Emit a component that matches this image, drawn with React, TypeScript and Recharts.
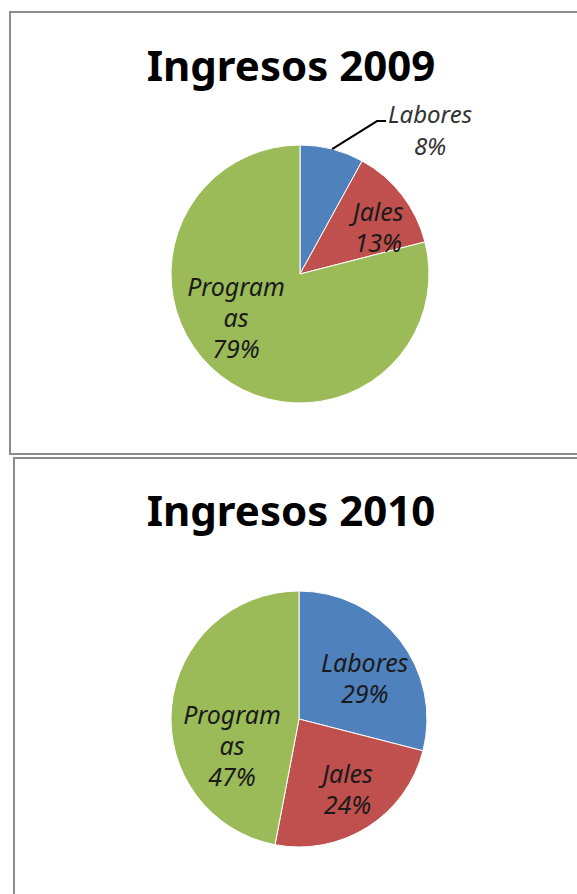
import React from "react";
import { PieChart, Pie, Cell } from "recharts";

const CATEGORIES = ["Labores", "Jales", "Programas"];
const VALUES_2009 = [8, 13, 79];
const VALUES_2010 = [29, 24, 47];
const LABEL_LINES = [["Labores"], ["Jales"], ["Program", "as"]];
const TITLES = ["Ingresos 2009", "Ingresos 2010"];

const COLORS = ["#4F81BD", "#C0504D", "#9BBB59"];
const RAD = Math.PI / 180;
const LINE_H = 31;
const LABEL_SIZE = 25;
const LABEL_FONT = "'Noto Sans', 'DejaVu Sans', sans-serif";

// small per-slice nudges so labels sit where Excel put them
const NUDGE_2009 = [
  [0, 0],
  [15, 2],
  [-15, -20],
];
const NUDGE_2010 = [
  [3, 7],
  [6, 2],
  [12, 33],
];

const data2009 = CATEGORIES.map((name, i) => ({ name, value: VALUES_2009[i] }));
const data2010 = CATEGORIES.map((name, i) => ({ name, value: VALUES_2010[i] }));

function makeLabel(nudge: number[][], outsideIdx: number) {
  return (props: any) => {
    const { cx, cy, midAngle, outerRadius, index, value } = props;
    const lines = [...LABEL_LINES[index], `${value}%`];
    const cos = Math.cos(-midAngle * RAD);
    const sin = Math.sin(-midAngle * RAD);

    if (index === outsideIdx) {
      const ex = cx + outerRadius * cos;
      const ey = cy + outerRadius * sin;
      const mx = ex + 45;
      const my = ey - 28;
      const hx = mx + 9;
      const tx = hx + 44;
      return (
        <g>
          <polyline
            points={`${ex},${ey} ${mx},${my} ${hx},${my}`}
            fill="none"
            stroke="#000"
            strokeWidth={2}
          />
          {lines.map((t, i) => (
            <text
              key={i}
              x={tx}
              y={my - 8 + i * 32}
              textAnchor="middle"
              dominantBaseline="central"
              fontFamily={LABEL_FONT}
              fontStyle="italic"
              fontSize={LABEL_SIZE - 1}
              fill="#333"
            >
              {t}
            </text>
          ))}
        </g>
      );
    }

    const r = outerRadius * 0.62;
    const x = cx + r * cos + nudge[index][0];
    const y = cy + r * sin + nudge[index][1];
    return (
      <g>
        {lines.map((t, i) => (
          <text
            key={i}
            x={x}
            y={y + (i - (lines.length - 1) / 2) * LINE_H}
            textAnchor="middle"
            dominantBaseline="central"
            fontFamily={LABEL_FONT}
            fontStyle="italic"
            fontSize={LABEL_SIZE}
            fill="#1a1a1a"
          >
            {t}
          </text>
        ))}
      </g>
    );
  };
}

const panelStyle: React.CSSProperties = {
  position: "absolute",
  background: "#fff",
  border: "2px solid #8c8c8c",
  boxSizing: "border-box",
};

const titleStyle: React.CSSProperties = {
  position: "absolute",
  left: 0,
  width: 582,
  textAlign: "center",
  fontFamily: "'Noto Sans', sans-serif",
  fontWeight: 700,
  fontSize: 42,
  lineHeight: "50px",
  color: "#000",
};

export default function App() {
  return (
    <div style={{ position: "absolute", left: 0, top: 0, width: 577, height: 894, overflow: "hidden", background: "#fff" }}>
      <div style={{ ...panelStyle, left: 9, top: 11, width: 600, height: 444 }} />
      <div style={{ ...panelStyle, left: 13, top: 457, width: 600, height: 460 }} />
      <div style={{ ...titleStyle, top: 40 }}>{TITLES[0]}</div>
      <div style={{ ...titleStyle, top: 485 }}>{TITLES[1]}</div>
      <div style={{ position: "absolute", left: 0, top: 0 }}>
        <PieChart width={577} height={894} margin={{ top: 0, right: 0, bottom: 0, left: 0 }}>
          <Pie
            data={data2009}
            dataKey="value"
            nameKey="name"
            cx={300}
            cy={274}
            outerRadius={129}
            startAngle={90}
            endAngle={-270}
            stroke="#fff"
            strokeWidth={1}
            labelLine={false}
            label={makeLabel(NUDGE_2009, 0)}
            isAnimationActive={false}
          >
            {data2009.map((d, i) => (
              <Cell key={d.name} fill={COLORS[i]} />
            ))}
          </Pie>
          <Pie
            data={data2010}
            dataKey="value"
            nameKey="name"
            cx={299}
            cy={719}
            outerRadius={128}
            startAngle={90}
            endAngle={-270}
            stroke="#fff"
            strokeWidth={1}
            labelLine={false}
            label={makeLabel(NUDGE_2010, -1)}
            isAnimationActive={false}
          >
            {data2010.map((d, i) => (
              <Cell key={d.name} fill={COLORS[i]} />
            ))}
          </Pie>
        </PieChart>
      </div>
    </div>
  );
}
